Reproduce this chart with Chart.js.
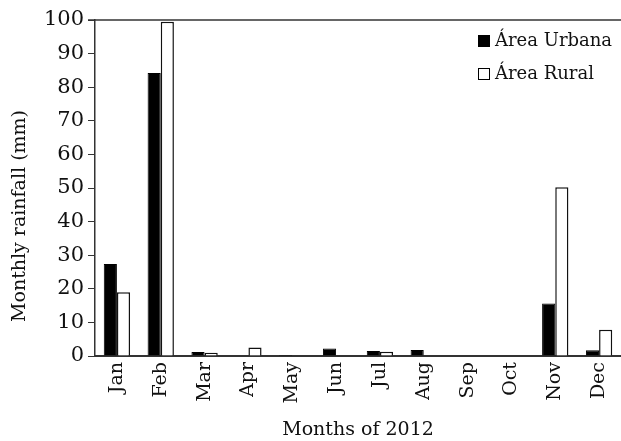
<!DOCTYPE html>
<html>
<head>
<meta charset="utf-8">
<script src="https://cdn.jsdelivr.net/npm/chart.js@4.4.1/dist/chart.umd.min.js"></script>
<style>
  html, body { margin: 0; padding: 0; background: #fff; }
  #wrap { width: 621px; height: 441px; }
</style>
</head>
<body>
<div id="wrap"><canvas id="rainChart"></canvas></div>
<script>
// データ
const months = ["Jan", "Feb", "Mar", "Apr", "May", "Jun", "Jul", "Aug", "Sep", "Oct", "Nov", "Dec"];
const urbanRain = [27.4, 84.2, 1.2, 0, 0.3, 2.2, 1.5, 1.8, 0, 0, 15.6, 1.7];
const ruralRain = [19.0, 99.5, 1.0, 2.5, 0, 0, 1.3, 0, 0, 0, 50.2, 7.8];
const yTicks = [0, 10, 20, 30, 40, 50, 60, 70, 80, 90, 100];
const yTitle = 'Monthly rainfall (mm)';

const serif = "'DejaVu Serif', 'Liberation Serif', serif";

// 凡例、縦軸タイトル、グラフ上端の線を描く
const framePlugin = {
  id: 'frame',
  afterDraw(chart) {
    const ctx = chart.ctx;
    const area = chart.chartArea;
    ctx.save();
    ctx.strokeStyle = '#333';
    ctx.lineWidth = 1.5;
    ctx.beginPath();
    ctx.moveTo(area.left - 7, area.top);
    ctx.lineTo(area.right, area.top);
    ctx.stroke();

    // 縦軸タイトル（元図では少し下寄り）
    ctx.save();
    ctx.translate(20, 216);
    ctx.rotate(-Math.PI / 2);
    ctx.font = "19px " + serif;
    ctx.fillStyle = '#111';
    ctx.textAlign = 'center';
    ctx.textBaseline = 'middle';
    ctx.fillText(yTitle, 0, 0);
    ctx.restore();

    ctx.font = "18px " + serif;
    ctx.textBaseline = 'middle';
    ctx.textAlign = 'left';
    const lx = 478;
    const rows = [41, 74];
    chart.data.datasets.forEach((ds, i) => {
      ctx.fillStyle = ds.backgroundColor;
      ctx.strokeStyle = '#000';
      ctx.lineWidth = 1;
      ctx.fillRect(lx, rows[i] - 6, 12, 12);
      ctx.strokeRect(lx + 0.5, rows[i] - 5.5, 11, 11);
      ctx.fillStyle = '#111';
      ctx.fillText(ds.label, lx + 17, rows[i]);
    });
    ctx.restore();
  }
};

new Chart(document.getElementById('rainChart'), {
  type: 'bar',
  data: {
    labels: months,
    datasets: [{
      label: 'Área Urbana',
      data: urbanRain,
      backgroundColor: '#000',
      borderColor: '#000',
      borderWidth: 1
    }, {
      label: 'Área Rural',
      data: ruralRain,
      backgroundColor: '#fff',
      borderColor: '#111',
      borderWidth: 1.5
    }]
  },
  options: {
    responsive: true,
    maintainAspectRatio: false,
    animation: false,
    layout: { padding: { top: 20, right: 0, left: 4, bottom: 0 } },
    datasets: {
      bar: { categoryPercentage: 0.6, barPercentage: 1.0 }
    },
    plugins: {
      legend: { display: false },
      tooltip: { enabled: false }
    },
    scales: {
      x: {
        afterFit(axis) {
          axis.height = 85;
          axis.paddingLeft = 0;
          axis.paddingRight = 0;
        },
        grid: { display: false, drawTicks: false },
        border: { display: true, color: '#333', width: 2 },
        ticks: {
          color: '#111',
          font: { family: serif, size: 19 },
          minRotation: 90,
          maxRotation: 90,
          padding: 6
        },
        title: {
          display: true,
          text: 'Months of 2012',
          color: '#111',
          font: { family: serif, size: 19 },
          padding: { top: 2, bottom: 0 }
        }
      },
      y: {
        min: 0,
        max: 100,
        afterBuildTicks(axis) {
          axis.ticks = yTicks.map(v => ({ value: v }));
        },
        afterFit(axis) {
          axis.width = 91;
          axis.paddingTop = 0;
          axis.paddingBottom = 0;
        },
        grid: { drawOnChartArea: false, drawTicks: true, tickLength: 7, color: '#333' },
        border: { display: true, color: '#333', width: 1.5 },
        ticks: {
          color: '#111',
          font: { family: serif, size: 21 },
          padding: 4
        },
        title: { display: false }
      }
    }
  },
  plugins: [framePlugin]
});
</script>
</body>
</html>
